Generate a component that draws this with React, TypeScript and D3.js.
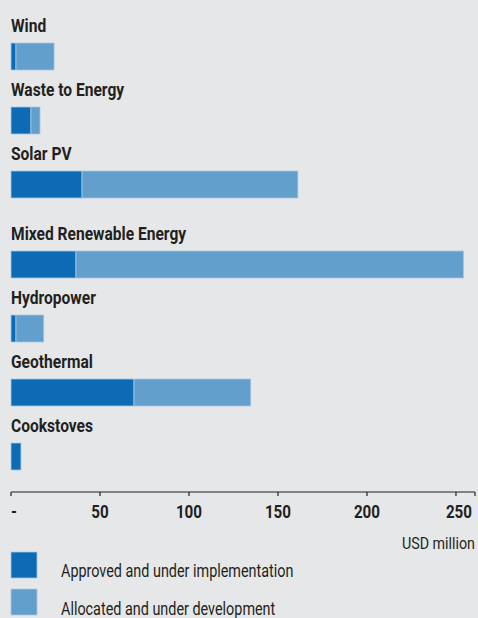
import React from "react";
import * as d3 from "d3";

const categories = [
  "Wind",
  "Waste to Energy",
  "Solar PV",
  "Mixed Renewable Energy",
  "Hydropower",
  "Geothermal",
  "Cookstoves",
];
const approved = [2.8, 11.2, 39.9, 36.5, 2.8, 69.1, 5.6];
const allocated = [21.4, 5.1, 121.3, 217.8, 15.6, 65.6, 0];
const tickValues = [0, 50, 100, 150, 200, 250];
const tickLabels = ["-", "50", "100", "150", "200", "250"];
const seriesNames = ["Approved and under implementation", "Allocated and under development"];
const seriesColors = ["#0d6bb5", "#629fcc"];

const W = 478;
const H = 618;
const FONT = "Roboto, 'DejaVu Sans', sans-serif";

function T(props: {
  x: number;
  y: number;
  anchor?: "start" | "middle" | "end";
  bold?: boolean;
  size: number;
  sx: number;
  children: React.ReactNode;
}) {
  return (
    <g transform={`translate(${props.x},${props.y}) scale(${props.sx},1)`}>
      <text
        x={0}
        y={0}
        textAnchor={props.anchor || "start"}
        fontFamily={FONT}
        fontWeight={props.bold ? 700 : 400}
        fontSize={props.size}
        fill="#231f20"
      >
        {props.children}
      </text>
    </g>
  );
}

export default function App() {
  const x = d3.scaleLinear().domain([0, 260.7]).range([11, 475]);
  const y = d3.scaleBand<string>().domain(categories).range([43, 43 + 64 * 7]).paddingInner(0).paddingOuter(0);
  const extra = (i: number) => (i >= 3 ? 16 : 0);
  const barH = 27;
  const axisY = 492;

  const stacked = categories.map((c, i) => {
    const segs = [approved[i], allocated[i]];
    let acc = 0;
    return segs.map((v, k) => {
      const s = { x0: acc, x1: acc + v, k };
      acc += v;
      return s;
    });
  });

  return (
    <svg width={W} height={H} style={{ position: "absolute", left: 0, top: 0, background: "#e6e7e9" }}>
      <rect x={0} y={0} width={W} height={H} fill="#e6e7e9" />
      {categories.map((c, i) => {
        const top = (y(c) as number) + extra(i);
        return (
          <g key={c}>
            <T x={11} y={top - 11} bold size={19} sx={0.82}>
              {c}
            </T>
            {stacked[i].filter((s) => s.x1 > s.x0).map((s) => (
              <rect
                key={s.k}
                x={x(s.x0)}
                y={top}
                width={x(s.x1) - x(s.x0)}
                height={barH}
                fill={seriesColors[s.k]}
                stroke="#a9c9e2"
                strokeWidth={0.8}
              />
            ))}
          </g>
        );
      })}
      <g>
        <line x1={x(0)} x2={x.range()[1]} y1={axisY} y2={axisY} stroke="#231f20" strokeWidth={1.2} />
        {tickValues.map((t) => (
          <line key={t} x1={x(t)} x2={x(t)} y1={axisY} y2={axisY + 4} stroke="#231f20" strokeWidth={1.2} />
        ))}
        <line x1={x.range()[1]} x2={x.range()[1]} y1={axisY} y2={axisY + 4} stroke="#231f20" strokeWidth={1.2} />
        {tickValues.map((t, i) => (
          <T
            key={t}
            x={i === 0 ? x(t) : x(t) + (i === 5 ? 3 : 0)}
            y={518}
            anchor={i === 0 ? "start" : "middle"}
            bold
            size={19}
            sx={0.8}
          >
            {tickLabels[i]}
          </T>
        ))}
        <T x={475} y={549} anchor="end" size={17} sx={0.84}>
          USD million
        </T>
      </g>
      {seriesNames.map((n, i) => (
        <g key={n}>
          <rect x={11} y={552 + i * 37} width={26} height={26} fill={seriesColors[i]} stroke="#a9c9e2" strokeWidth={0.8} />
          <T x={61} y={577 + i * 38} size={18} sx={0.8}>
            {n}
          </T>
        </g>
      ))}
    </svg>
  );
}
